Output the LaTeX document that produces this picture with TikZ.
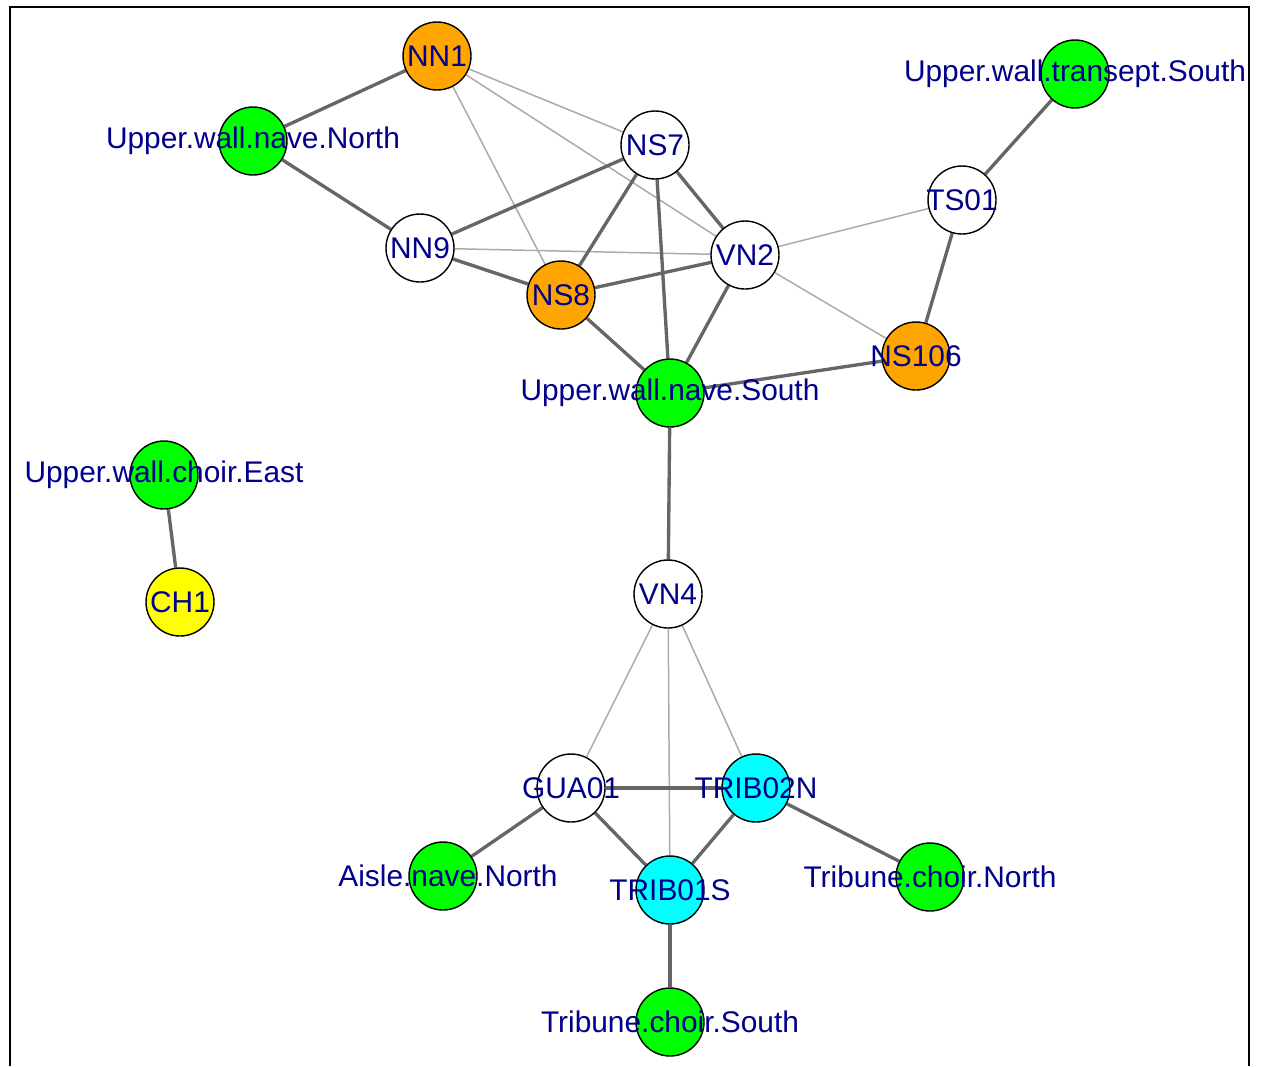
\documentclass[tikz,border=0pt]{standalone}
\usepackage{fontspec}
\setmainfont{Liberation Sans}
\definecolor{vgreen}{RGB}{0, 255, 0}
\definecolor{vorange}{RGB}{255, 165, 0}
\definecolor{vcyan}{RGB}{0, 255, 255}
\definecolor{vyellow}{RGB}{255, 255, 0}
\definecolor{labblue}{RGB}{0, 0, 139}
\definecolor{edgedark}{RGB}{102, 102, 102}
\definecolor{edgelight}{RGB}{170, 170, 170}
\usetikzlibrary{backgrounds}

\begin{document}
\begin{tikzpicture}[x=0.02cm, y=-0.02cm,
    vtx/.style={circle, draw=black, line width=0.8pt, fill=#1, minimum size=1.36cm, inner sep=0pt},
    lab/.style={text=labblue, font=\fontsize{17}{18}\selectfont, inner sep=0pt},
    strong/.style={edgedark, line width=1.9pt},
    weak/.style={edgelight, line width=0.85pt}]
  \useasboundingbox (0, 0) rectangle (1263, 1066);
  % frame
  \draw[line width=1.1pt] (10, 1066) -- (10, 7) -- (1249, 7) -- (1249, 1066);

  % vertices
  \node[vtx=vorange] (nn1) at (437, 56) {};
  \node[vtx=vgreen] (uwnN) at (253, 141) {};
  \node[vtx=white] (ns7) at (655, 145) {};
  \node[vtx=white] (nn9) at (420, 248) {};
  \node[vtx=vorange] (ns8) at (561, 295) {};
  \node[vtx=white] (vn2) at (745, 255) {};
  \node[vtx=white] (ts01) at (962, 200) {};
  \node[vtx=vgreen] (uwtS) at (1075, 74) {};
  \node[vtx=vorange] (ns106) at (916, 356) {};
  \node[vtx=vgreen] (uwnS) at (670, 393) {};
  \node[vtx=vgreen] (uwcE) at (164, 475) {};
  \node[vtx=vyellow] (ch1) at (180, 602) {};
  \node[vtx=white] (vn4) at (668, 594) {};
  \node[vtx=white] (gua01) at (571, 788) {};
  \node[vtx=vcyan] (trib02n) at (756, 788) {};
  \node[vtx=vgreen] (anN) at (443, 876) {};
  \node[vtx=vcyan] (trib01s) at (670, 890) {};
  \node[vtx=vgreen] (tcN) at (930, 877) {};
  \node[vtx=vgreen] (tcS) at (670, 1022) {};

  % edges
  \begin{scope}[on background layer]
    \draw[weak] (nn1) -- (ns7);
    \draw[weak] (nn1) -- (vn2);
    \draw[weak] (nn1) -- (ns8);
    \draw[weak] (nn9) -- (vn2);
    \draw[weak] (vn2) -- (ts01);
    \draw[weak] (vn2) -- (ns106);
    \draw[weak] (vn4) -- (gua01);
    \draw[weak] (vn4) -- (trib02n);
    \draw[weak] (vn4) -- (trib01s);

    \draw[strong] (nn1) -- (uwnN);
    \draw[strong] (uwnN) -- (nn9);
    \draw[strong] (nn9) -- (ns7);
    \draw[strong] (nn9) -- (ns8);
    \draw[strong] (ns7) -- (ns8);
    \draw[strong] (ns7) -- (vn2);
    \draw[strong] (ns7) -- (uwnS);
    \draw[strong] (ns8) -- (vn2);
    \draw[strong] (ns8) -- (uwnS);
    \draw[strong] (vn2) -- (uwnS);
    \draw[strong] (uwnS) -- (ns106);
    \draw[strong] (ns106) -- (ts01);
    \draw[strong] (ts01) -- (uwtS);
    \draw[strong] (uwnS) -- (vn4);
    \draw[strong] (uwcE) -- (ch1);
    \draw[strong] (gua01) -- (trib02n);
    \draw[strong] (gua01) -- (trib01s);
    \draw[strong] (gua01) -- (anN);
    \draw[strong] (trib02n) -- (trib01s);
    \draw[strong] (trib02n) -- (tcN);
    \draw[strong] (trib01s) -- (tcS);
  \end{scope}

  % labels
  \node[lab] (lnn1) at (nn1) {NN1};
  \node[lab] (luwnN) at (uwnN) {Upper.wall.nave.North};
  \node[lab] (lns7) at (ns7) {NS7};
  \node[lab] (lnn9) at (nn9) {NN9};
  \node[lab] (lns8) at (ns8) {NS8};
  \node[lab] (lvn2) at (vn2) {VN2};
  \node[lab] (lts01) at (ts01) {TS01};
  \node[lab] (luwtS) at (uwtS) {Upper.wall.transept.South};
  \node[lab] (lns106) at (ns106) {NS106};
  \node[lab] (luwnS) at (uwnS) {Upper.wall.nave.South};
  \node[lab] (luwcE) at (uwcE) {Upper.wall.choir.East};
  \node[lab] (lch1) at (ch1) {CH1};
  \node[lab] (lvn4) at (vn4) {VN4};
  \node[lab] (lgua01) at (gua01) {GUA01};
  \node[lab] (ltrib02n) at (trib02n) {TRIB02N};
  \node[lab] (lanN) at (448, 876) {Aisle.nave.North};
  \node[lab] (ltrib01s) at (trib01s) {TRIB01S};
  \node[lab] (ltcN) at (tcN) {Tribune.choir.North};
  \node[lab] (ltcS) at (tcS) {Tribune.choir.South};
\end{tikzpicture}
\end{document}
